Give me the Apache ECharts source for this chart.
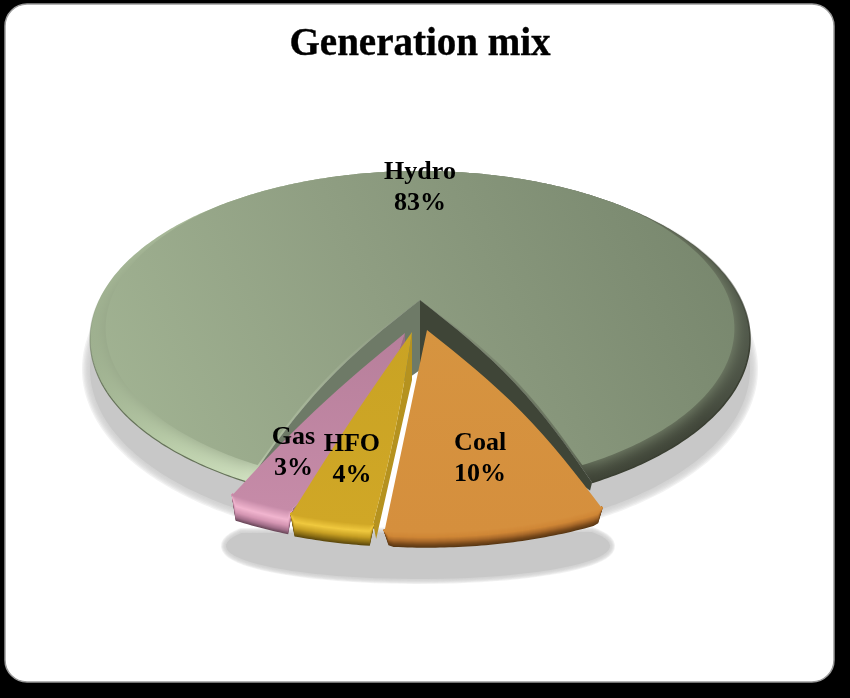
<!DOCTYPE html>
<html><head><meta charset="utf-8">
<style>html,body{margin:0;padding:0;background:#000}#c{width:850px;height:698px}</style>
<script src="https://cdn.jsdelivr.net/npm/echarts@6/dist/echarts.min.js"></script>
</head><body><div id="c"></div>
<script>
// ---- data ----
const categories = ['Hydro', 'Coal', 'HFO', 'Gas'];
const shares = [83, 10, 4, 3];
const chartTitle = 'Generation mix';

// ---- projection of the pie disk into the picture ----
const view = {cx: 420, A: 89.4, B: 300, C: -0.232, D: 321, warp: 0.79};
const degPerUnit = 360 / shares.reduce((a, b) => a + b, 0);
const firstEdge = 180 - shares[0] * degPerUnit / 2;          // Hydro is centred at the back
function edges(i) {                                          // angle from the front, + is right
  let hi = firstEdge;
  for (let k = 1; k < i; k++) hi -= shares[k] * degPerUnit;
  if (i === 0) return [firstEdge + shares[0] * degPerUnit, firstEdge];
  return [hi, hi - shares[i] * degPerUnit];
}
function project(deg, r) {
  const t = deg * Math.PI / 180, a = view.warp * Math.sin(t), b = Math.cos(t), n = Math.hypot(a, b);
  const u = r * a / n, v = r * b / n, den = 1 + view.C * v;
  return [view.cx + view.D * u / den, (view.A * v + view.B) / den];
}
function arc(from, to, r, dx, dy, taper) {
  const pts = [], n = Math.max(8, Math.ceil(Math.abs(to - from) / 0.75));
  for (let i = 0; i <= n; i++) {
    const s = i / n, p = project(from + (to - from) * s, r);
    let k = 1;
    if (taper) { const x = Math.min(1, s / taper, (1 - s) / taper); k = Math.sqrt(1 - (1 - x) * (1 - x)); }
    pts.push([p[0] + dx, p[1] + dy * k]);
  }
  return pts;
}
function bowed(a, b, bow, side) {     // a->b with a sideways bulge
  const pts = [], dx = b[0] - a[0], dy = b[1] - a[1], l = Math.hypot(dx, dy);
  const nx = side > 0 ? dy / l : -dy / l, ny = side > 0 ? -dx / l : dx / l;
  for (let i = 0; i <= 16; i++) {
    const s = i / 16, o = bow * Math.sin(Math.PI * s);
    pts.push([a[0] + dx * s + nx * o, a[1] + dy * s + ny * o]);
  }
  return pts;
}
function hex(c) { return [1, 3, 5].map(i => parseInt(c.substr(i, 2), 16)); }
function ramp(stops, t) {
  if (t <= stops[0][0]) return hex(stops[0][1]);
  for (let i = 1; i < stops.length; i++) if (t <= stops[i][0]) {
    const a = stops[i - 1], b = stops[i], s = (t - a[0]) / (b[0] - a[0]), x = hex(a[1]), y = hex(b[1]);
    return x.map((q, j) => q + (y[j] - q) * s);
  }
  return hex(stops[stops.length - 1][1]);
}
const css = c => 'rgb(' + c.map(Math.round).join(',') + ')';

// ---- styling of the slices ----
const looks = {
  Coal: {apexOff: [7, 30], off: [7, 11], r: 1.05, spin: -1.5, bow: [10, 0], depth: 15, taper: .035,
    surface: ['#d69440', '#d58f3d'], wall: null,
    rim: [[0, '#d58f3d'], [5, '#cf8636'], [9, '#a8692a'], [12, '#7d4c1c'], [15, '#5a3814']], lab: [5, -6]},
  HFO: {apexOff: [-8, 32], off: [-10, 18], r: 1, spin: -1, bow: [3, 2], depth: 21, taper: .04,
    surface: ['#c9a324', '#d0a726'], wall: '#b5921f', wallAt: 48, wallEnd: [3, 15],
    rim: [[0, '#d0a726'], [7, '#f0c93f'], [13, '#c8a024'], [18, '#8a6d14'], [21, '#5e4a0e']], lab: [-12, -7]},
  Gas: {apexOff: [-15, 33], off: [-10, 14], r: 1, spin: -1, bow: [18, 5], depth: 24, taper: .07,
    surface: ['#b77f9b', '#c68ba8'], wall: '#9b6b86', wallAt: 26, wallEnd: [4, 15],
    rim: [[0, '#c68ba8'], [10, '#f1b5cf'], [16, '#d596b3'], [21, '#a06d88'], [24, '#6d4a5c']], lab: [-16, -7]}
};

function hydroItem(params, api) {
  const [from, to] = edges(0);
  const apex = project(0, 0), cR = project(to, 1), cL = project(from, 1);
  const right = bowed(apex, cR, 12, 1), left = bowed(apex, cL, 12, -1);
  const outline = right.concat(arc(to, from, 1, 0, 0)).concat(left.slice().reverse());
  const rimFill = new echarts.graphic.LinearGradient(0, 0, 1, 0, [
    {offset: 0, color: '#9fb190'}, {offset: .13, color: '#bdd0ac'}, {offset: .24, color: '#d0e1c0'},
    {offset: .76, color: '#3d4235'}, {offset: .93, color: '#3f4438'}, {offset: 1, color: '#4d5447'}]);
  const children = [{type: 'polygon', shape: {points: outline}, style: {fill: rimFill}}];
  // inner face with a soft blend into the rim, kept inside the outline
  const iR = project(to, .955), iL = project(from, .955);
  const iRight = bowed(apex, [iR[0], iR[1] - 7], 12, 1), iLeft = bowed(apex, [iL[0], iL[1] - 7], 12, -1);
  children.push({type: 'group', clipPath: {type: 'polygon', shape: {points: outline}}, children: [
    {type: 'polygon', shape: {points: iRight.concat(arc(to, from, .955, 0, -7)).concat(iLeft.slice().reverse())},
      style: {
        fill: new echarts.graphic.LinearGradient(0, 1, 1, 0, [
          {offset: 0, color: '#a3b594'}, {offset: .45, color: '#8f9e82'}, {offset: 1, color: '#75846b'}]),
        shadowBlur: 20, shadowColor: '#8e9d81'}}]});
  // thin dark edge on the lower part of the rim, fading out towards the back
  const fadeEdge = c => new echarts.graphic.LinearGradient(0, 0, 0, 1, [
    {offset: 0, color: c + '00'}, {offset: .5, color: c + 'ff'}, {offset: 1, color: c + 'ff'}]);
  children.push({type: 'polyline', shape: {points: arc(to, 120, 1, 0, 0)}, style: {fill: null, stroke: fadeEdge('#3a3f32'), lineWidth: 1.6}});
  children.push({type: 'polyline', shape: {points: arc(from, 270, 1, 0, 0)}, style: {fill: null, stroke: fadeEdge('#66735a'), lineWidth: 1.2}});
  // walls of the cut
  const fold = [apex[0], apex[1] + 70];
  children.push({type: 'polygon', shape: {points: left.concat([[cL[0] + 2, cL[1] + 8], fold])}, style: {fill: '#6e7a67'}});
  children.push({type: 'polygon', shape: {points: right.concat([[cR[0] - 2, cR[1] + 8], fold])}, style: {fill: '#3f4537'}});
  return {type: 'group', children};
}

function sliceItem(params, api) {
  const i = api.value(0), look = looks[categories[i]], children = [];
  const e = edges(i), hi = e[0] + look.spin, lo = e[1] + look.spin, [ox, oy] = look.off, R = look.r;
  const apex = [project(0, 0)[0] + look.apexOff[0], project(0, 0)[1] + look.apexOff[1]];
  const a = project(hi, R), b = project(lo, R);
  const A = [a[0] + ox, a[1] + oy], B = [b[0] + ox, b[1] + oy];
  const edgeR = bowed(apex, A, look.bow[0], 1), edgeL = bowed(apex, B, look.bow[1], -1);
  if (look.wall) {
    children.push({type: 'polygon', shape: {points: edgeR.concat([
      [A[0] + look.wallEnd[0], A[1] + look.wallEnd[1]], [apex[0], apex[1] + look.wallAt]])},
      style: {fill: look.wall}});
  }
  for (let d = look.depth; d >= 0; d -= 1) {
    const line = arc(hi, lo, R, ox, d, look.taper).map(p => [p[0], p[1] + oy]);
    children.push({type: 'polyline', silent: true, shape: {points: line},
      style: {fill: null, stroke: css(ramp(look.rim, d)), lineWidth: 2, lineCap: 'round'}});
  }
  children.push({type: 'polygon', shape: {points: edgeR.concat(arc(hi, lo, R, ox, oy)).concat(edgeL.slice().reverse())},
    style: {fill: new echarts.graphic.LinearGradient(0, 0, 0, 1, [
      {offset: 0, color: look.surface[0]}, {offset: 1, color: look.surface[1]}])}});
  return {type: 'group', children};
}

// soft-edged flat grey: a few translucent outlines around a solid fill
function softPolygon(points, spread, y) {
  const out = [];
  for (let k = 6; k >= 1; k--) {
    out.push({type: 'polygon', silent: true, y, shape: {points},
      style: {fill: null, stroke: 'rgba(200,200,200,.24)', lineWidth: spread * k / 3, lineJoin: 'round'}});
  }
  out.push({type: 'polygon', silent: true, y, shape: {points}, style: {fill: '#c8c8c8'}});
  return out;
}

function shadowItem(params, api) {
  const [from, to] = edges(0), apex = project(0, 0);
  const cut = [apex].concat(arc(to, from, 1, 0, 0));
  const band = [];
  for (let d = -25; d <= 205; d += 4) {
    const t = d * Math.PI / 180;
    band.push([418 + 192 * Math.cos(t), 546 + 33 * Math.sin(t)]);
  }
  return {type: 'group', children: softPolygon(cut, 8, 30).concat(softPolygon(band, 5, 0))};
}

function labelItem(params, api) {
  const i = api.value(0), name = categories[i], look = looks[name];
  const [hi, lo] = edges(i), mid = (hi + lo) / 2;
  const p = project(mid, i === 0 ? .84 : .72);
  const off = look ? [look.apexOff[0] + look.lab[0], look.apexOff[1] + look.lab[1]] : [0, 0];
  return {type: 'text', silent: true, x: p[0] + off[0], y: p[1] + off[1], style: {
    text: name + '\n' + shares[i] + '%', fill: '#000', align: 'center', verticalAlign: 'middle',
    font: 'bold 26px "Liberation Serif", serif', lineHeight: 31}};
}

const chart = echarts.init(document.getElementById('c'), null, {renderer: 'canvas'});
chart.setOption({
  animation: false,
  backgroundColor: '#000',
  title: {text: chartTitle, left: 415, top: 20, textAlign: 'center',
    textStyle: {fontFamily: '"Liberation Serif", serif', fontWeight: 'bold', fontSize: 39, color: '#000',
      textBorderColor: '#000', textBorderWidth: .4}},
  graphic: [{type: 'rect', z: -10, silent: true, shape: {x: 5, y: 4, width: 829, height: 678, r: 22},
    style: {fill: '#fff', stroke: '#9a9a9a', lineWidth: 1.5}}],
  series: [
    {type: 'custom', coordinateSystem: 'none', z: 1, silent: true, data: [[0]], renderItem: shadowItem},
    {type: 'custom', coordinateSystem: 'none', z: 2, silent: true, data: [[0]], renderItem: hydroItem},
    {type: 'custom', coordinateSystem: 'none', z: 3, silent: true, data: [[3], [2], [1]], renderItem: sliceItem},
    {type: 'custom', coordinateSystem: 'none', z: 4, silent: true, data: [[0], [1], [2], [3]], renderItem: labelItem}
  ]
});
</script></body></html>
